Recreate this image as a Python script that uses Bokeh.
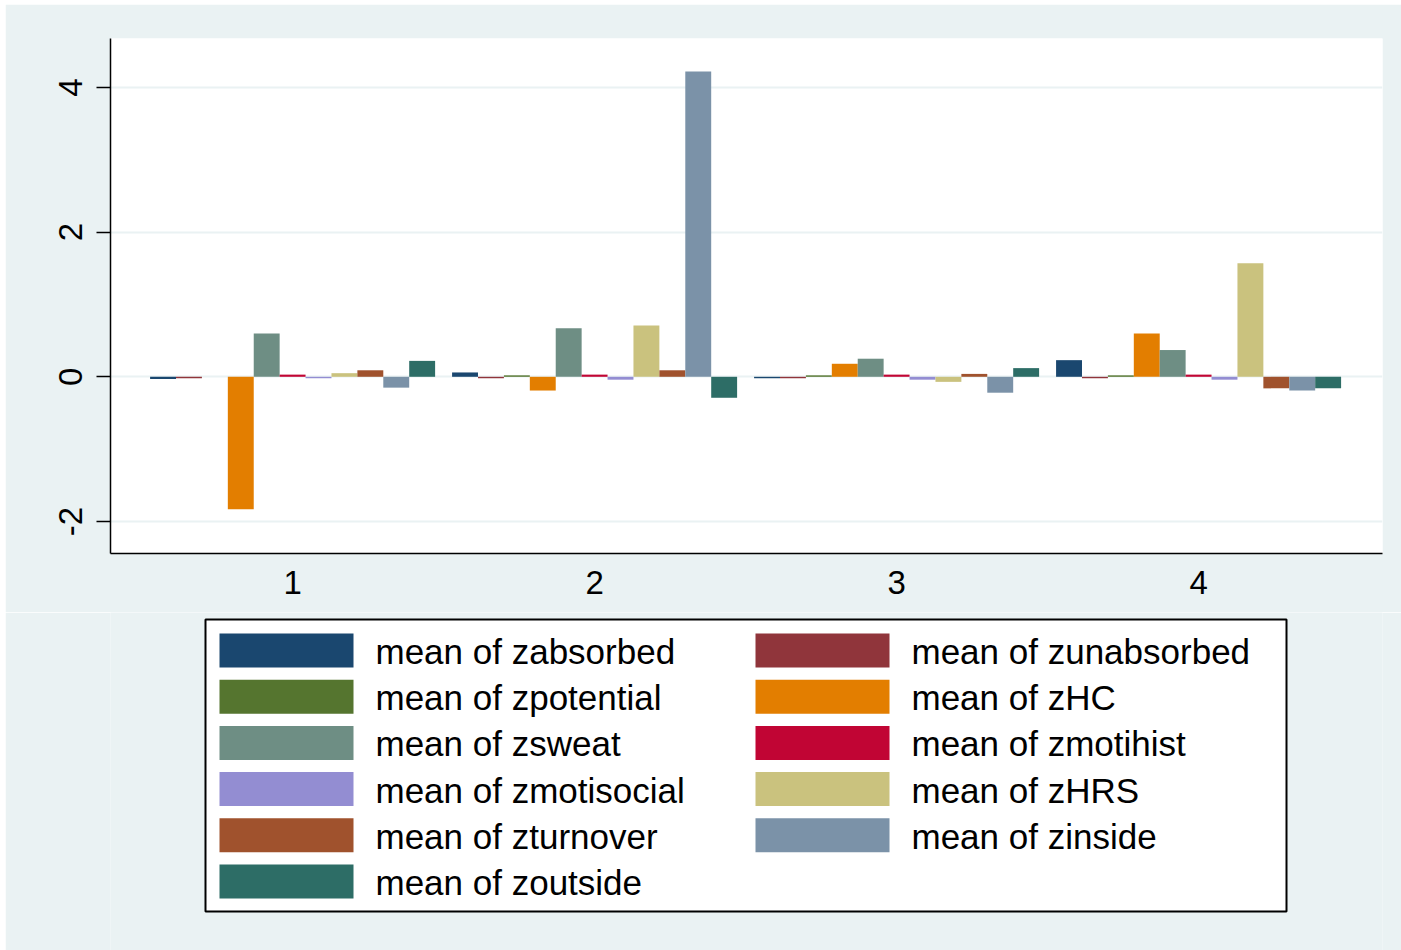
from bokeh.plotting import figure
from bokeh.models import Range1d, FixedTicker, ColumnDataSource
from bokeh.layouts import column
from bokeh.transform import dodge
from bokeh.core.properties import value
from bokeh.embed import file_html
from bokeh.resources import INLINE

# ---- data -------------------------------------------------------------
groups = [1, 2, 3, 4]
tick_labels = ["1", "2", "3", "4"]
y_ticks = [-2, 0, 2, 4]
y_tick_labels = ["-2", "0", "2", "4"]

zabsorbed = [-0.03, 0.06, -0.02, 0.23]
zunabsorbed = [-0.02, -0.02, -0.02, -0.02]
zpotential = [0.00, 0.02, 0.02, 0.02]
zHC = [-1.83, -0.19, 0.18, 0.60]
zsweat = [0.60, 0.67, 0.25, 0.37]
zmotihist = [0.03, 0.03, 0.03, 0.03]
zmotisocial = [-0.02, -0.04, -0.04, -0.04]
zHRS = [0.05, 0.71, -0.07, 1.57]
zturnover = [0.09, 0.09, 0.04, -0.16]
zinside = [-0.15, 4.22, -0.22, -0.19]
zoutside = [0.22, -0.29, 0.12, -0.16]

series_names = ["zabsorbed", "zunabsorbed", "zpotential", "zHC", "zsweat",
                "zmotihist", "zmotisocial", "zHRS", "zturnover", "zinside",
                "zoutside"]
series_values = [zabsorbed, zunabsorbed, zpotential, zHC, zsweat,
                 zmotihist, zmotisocial, zHRS, zturnover, zinside, zoutside]
colors = ["#1a476f", "#90353b", "#55752f", "#e37e00", "#6e8e84", "#c10534",
          "#938dd2", "#cac27e", "#a0522d", "#7b92a8", "#2d6d66"]

# ---- styling ----------------------------------------------------------
BG = "#eaf2f3"
FONT = "Liberation Sans"
BAR_W = 0.0858
n = len(series_names)

FRAME_L, FRAME_R = 110, 1382      # page pixels of the plotting area
PAGE_L, PAGE_T = 5, 4
FIG_W = 1401 - PAGE_L
CHART_H = 608

src = ColumnDataSource(dict(group=groups, **{nm: v for nm, v in zip(series_names, series_values)}))

p = figure(width=FIG_W, height=CHART_H,
           x_range=Range1d(0.397, 4.609), y_range=Range1d(-2.443, 4.677),
           output_backend="svg", toolbar_location=None,
           min_border_left=FRAME_L - PAGE_L, min_border_right=1401 - FRAME_R,
           min_border_top=34, min_border_bottom=59)
p.background_fill_color = "white"
p.border_fill_color = BG
p.outline_line_color = None

for i, (nm, col) in enumerate(zip(series_names, colors)):
    offset = (i - (n - 1) / 2) * BAR_W
    p.vbar(x=dodge("group", offset, range=p.x_range), top=nm, bottom=0,
           width=BAR_W, source=src, fill_color=col, line_color=None)

p.xgrid.visible = False
p.ygrid.ticker = FixedTicker(ticks=y_ticks)
p.ygrid.grid_line_color = BG
p.ygrid.grid_line_width = 2

p.yaxis.ticker = FixedTicker(ticks=y_ticks)
p.yaxis.major_label_overrides = {t: s for t, s in zip(y_ticks, y_tick_labels)}
p.yaxis.major_label_orientation = "vertical"
p.yaxis.major_tick_out = 14
p.yaxis.major_tick_in = 0
p.yaxis.major_label_standoff = 14

p.xaxis.ticker = FixedTicker(ticks=groups)
p.xaxis.major_label_overrides = {g: t for g, t in zip(groups, tick_labels)}
p.xaxis.major_tick_out = 0
p.xaxis.major_tick_in = 0
p.xaxis.major_label_standoff = 17

for ax in (p.xaxis, p.yaxis):
    ax.axis_line_color = "black"
    ax.axis_line_width = 1.5
    ax.major_tick_line_color = "black"
    ax.major_tick_line_width = 1.5
    ax.minor_tick_line_color = None
    ax.major_label_text_font = FONT
    ax.major_label_text_font_size = "33px"
    ax.major_label_text_color = "black"

# ---- legend panel (coordinates are page pixels) ------------------------
TOP = PAGE_T + CHART_H
leg = figure(width=FIG_W, height=950 - TOP,
             x_range=Range1d(FRAME_L, FRAME_R), y_range=Range1d(950, TOP),
             output_backend="svg", toolbar_location=None,
             min_border_left=FRAME_L - PAGE_L, min_border_right=1401 - FRAME_R,
             min_border_top=0, min_border_bottom=0,
             x_axis_type=None, y_axis_type=None)
leg.background_fill_color = BG
leg.border_fill_color = BG
leg.outline_line_color = None
leg.grid.visible = False

box_l, box_r, box_t, box_b = 205, 1286, 619, 911
leg.quad(left=[box_l], right=[box_r], top=[box_t], bottom=[box_b],
         fill_color="white", line_color="black", line_width=2)

sw_left, sw_top, sw_w, sw_h = 219, 633, 134, 34
col_step, row_step, text_gap = 536, 46.2, 22
sx0, sx1, sy0, sy1, tx, ty, labels = [], [], [], [], [], [], []
for i, nm in enumerate(series_names):
    r, c = divmod(i, 2)
    left = sw_left + c * col_step
    top = sw_top + r * row_step
    sx0.append(left); sx1.append(left + sw_w)
    sy0.append(top); sy1.append(top + sw_h)
    tx.append(left + sw_w + text_gap); ty.append(top + sw_h / 2 + 1)
    labels.append("mean of " + nm)

leg.quad(left=sx0, right=sx1, top=sy0, bottom=sy1,
         fill_color=colors, line_color=None)
leg.text(x=tx, y=ty, text=labels, text_font=value(FONT),
         text_font_size="35px", text_baseline="middle", text_align="left",
         text_color="black")

layout = column(p, leg, margin=(PAGE_T, 0, 0, PAGE_L), spacing=0)

open("out.html", "w").write(file_html(layout, INLINE))
